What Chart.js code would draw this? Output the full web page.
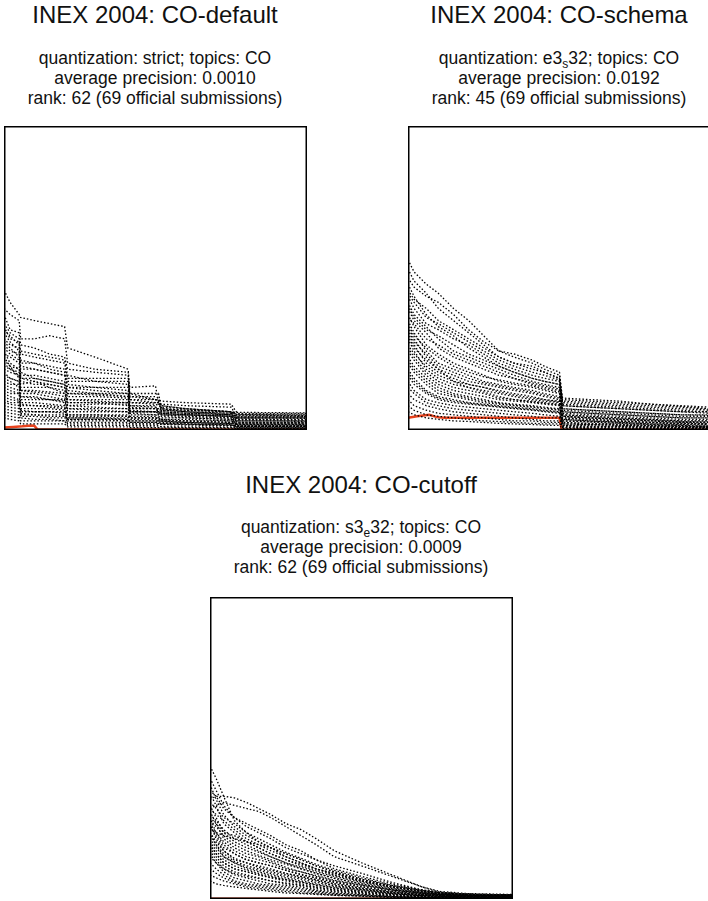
<!DOCTYPE html>
<html lang="en">
<head>
  <meta charset="UTF-8" />
  <title>INEX 2004 CO runs</title>
  <script src="https://cdn.jsdelivr.net/npm/chart.js"></script>
  <style>
    body {
      margin: 0;
      width: 708px;
      height: 901px;
      overflow: hidden;
      background: #fff;
      font-family: "Liberation Sans", Arial, Helvetica, sans-serif;
      color: #111;
    }
    .title, .sub {
      position: absolute;
      width: 400px;
      text-align: center;
    }
    .title { font-size: 24px; line-height: 26px; }
    .sub { font-size: 17.5px; line-height: 20px; }
    .sub sub { font-size: 12px; line-height: 0; vertical-align: -4px; }
    canvas { position: absolute; }
  </style>
</head>
<body>
  <div class="title" style="left:-45px; top:2px;">INEX 2004: CO-default</div>
  <div class="sub" style="left:-45px; top:48px;">quantization: strict; topics: CO<br>average precision: 0.0010<br>rank: 62 (69 official submissions)</div>
  <canvas id="chartDefault" width="303" height="304" style="left:4px; top:126px;"></canvas>

  <div class="title" style="left:359px; top:2px;">INEX 2004: CO-schema</div>
  <div class="sub" style="left:359px; top:48px;">quantization: e3<sub>s</sub>32; topics: CO<br>average precision: 0.0192<br>rank: 45 (69 official submissions)</div>
  <canvas id="chartSchema" width="303" height="304" style="left:408px; top:126px;"></canvas>

  <div class="title" style="left:161px; top:472px;">INEX 2004: CO-cutoff</div>
  <div class="sub" style="left:161px; top:517px;">quantization: s3<sub>e</sub>32; topics: CO<br>average precision: 0.0009<br>rank: 62 (69 official submissions)</div>
  <canvas id="chartCutoff" width="303" height="302" style="left:210px; top:597px;"></canvas>

  <script>
    // recall grid + precision of the other official runs, per panel
    const defaultRecall = [0, 0.02, 0.05, 0.055, 0.1, 0.15, 0.2, 0.21, 0.3, 0.41, 0.415, 0.5, 0.51, 0.52, 0.6, 0.75, 0.77, 0.9, 1.0];
    const defaultRuns = [
      [0.46,0.42,0.38,0.37,0.36,0.35,0.34,0.27,0.24,0.20,0.12,0.10,0.09,0.08,0.07,0.06,0.058,0.057,0.056],
      [0.40,0.38,0.36,0.30,0.30,0.31,0.30,0.22,0.20,0.19,0.10,0.09,0.085,0.07,0.06,0.05,0.046,0.046,0.045],
      [0.38,0.33,0.32,0.28,0.27,0.25,0.24,0.20,0.19,0.18,0.14,0.145,0.09,0.08,0.07,0.06,0.035,0.035,0.034],
      [0.34,0.30,0.29,0.22,0.22,0.21,0.20,0.16,0.16,0.16,0.12,0.12,0.12,0.07,0.065,0.06,0.05,0.05,0.05],
      [0.30,0.28,0.27,0.20,0.20,0.19,0.18,0.12,0.12,0.12,0.09,0.09,0.09,0.085,0.08,0.075,0.04,0.04,0.04],
      [0.28,0.26,0.25,0.18,0.18,0.17,0.16,0.10,0.10,0.10,0.06,0.06,0.06,0.055,0.05,0.045,0.024,0.024,0.024],
      [0.26,0.22,0.20,0.15,0.16,0.15,0.14,0.08,0.085,0.085,0.07,0.07,0.06,0.055,0.05,0.045,0.03,0.03,0.028],
      [0.24,0.21,0.20,0.19,0.17,0.16,0.15,0.13,0.12,0.11,0.08,0.075,0.07,0.065,0.06,0.055,0.052,0.05,0.05],
      [0.22,0.20,0.19,0.12,0.12,0.11,0.10,0.06,0.06,0.06,0.04,0.04,0.04,0.035,0.03,0.03,0.02,0.02,0.02],
      [0.20,0.19,0.18,0.14,0.14,0.14,0.13,0.11,0.11,0.105,0.08,0.08,0.05,0.05,0.045,0.04,0.013,0.013,0.013],
      [0.18,0.17,0.16,0.10,0.10,0.10,0.09,0.04,0.04,0.04,0.03,0.03,0.03,0.03,0.025,0.02,0.01,0.01,0.01],
      [0.16,0.15,0.15,0.09,0.09,0.085,0.08,0.07,0.07,0.07,0.05,0.05,0.045,0.04,0.04,0.035,0.03,0.03,0.03],
      [0.15,0.14,0.13,0.06,0.06,0.06,0.06,0.03,0.03,0.03,0.02,0.02,0.02,0.02,0.02,0.015,0.01,0.01,0.01],
      [0.13,0.12,0.12,0.11,0.11,0.10,0.10,0.09,0.09,0.08,0.06,0.06,0.055,0.05,0.05,0.045,0.04,0.04,0.04],
      [0.12,0.11,0.10,0.08,0.08,0.08,0.075,0.05,0.05,0.05,0.04,0.04,0.035,0.03,0.03,0.025,0.015,0.015,0.015],
      [0.10,0.09,0.09,0.05,0.05,0.05,0.05,0.02,0.02,0.02,0.015,0.015,0.015,0.01,0.01,0.01,0.005,0.005,0.005],
      [0.08,0.075,0.07,0.065,0.06,0.06,0.055,0.05,0.05,0.045,0.04,0.04,0.035,0.03,0.03,0.025,0.02,0.02,0.02],
      [0.06,0.055,0.05,0.03,0.03,0.03,0.03,0.015,0.015,0.015,0.01,0.01,0.01,0.01,0.008,0.008,0.005,0.005,0.005],
      [0.05,0.045,0.04,0.04,0.035,0.035,0.03,0.025,0.025,0.025,0.02,0.02,0.02,0.018,0.016,0.015,0.013,0.013,0.012],
      [0.32,0.29,0.26,0.17,0.17,0.16,0.15,0.14,0.13,0.12,0.07,0.07,0.065,0.06,0.055,0.05,0.035,0.034,0.033],
      [0.35,0.32,0.30,0.25,0.24,0.23,0.22,0.17,0.17,0.17,0.11,0.10,0.10,0.095,0.09,0.085,0.055,0.055,0.055],
      [0.27,0.25,0.23,0.21,0.20,0.19,0.18,0.15,0.14,0.14,0.10,0.10,0.095,0.06,0.055,0.05,0.045,0.045,0.045],
      [0.04,0.035,0.03,0.02,0.02,0.02,0.02,0.01,0.01,0.01,0.008,0.008,0.008,0.006,0.006,0.006,0.004,0.004,0.004],
      [0.19,0.17,0.16,0.13,0.13,0.125,0.12,0.09,0.09,0.09,0.06,0.06,0.06,0.055,0.05,0.045,0.04,0.04,0.038],
      [0.29,0.27,0.24,0.23,0.22,0.20,0.19,0.14,0.14,0.13,0.09,0.085,0.08,0.075,0.07,0.06,0.05,0.048,0.047],
      [0.25,0.24,0.22,0.16,0.15,0.15,0.14,0.12,0.115,0.11,0.075,0.07,0.07,0.065,0.06,0.055,0.03,0.03,0.03],
      [0.23,0.21,0.17,0.17,0.16,0.14,0.12,0.10,0.095,0.09,0.065,0.06,0.055,0.05,0.045,0.04,0.025,0.025,0.025],
      [0.21,0.20,0.18,0.11,0.105,0.10,0.095,0.08,0.075,0.07,0.055,0.05,0.05,0.045,0.04,0.035,0.02,0.02,0.02],
      [0.17,0.16,0.14,0.13,0.125,0.12,0.11,0.07,0.065,0.06,0.045,0.045,0.04,0.035,0.035,0.03,0.018,0.018,0.017],
      [0.14,0.13,0.12,0.07,0.07,0.07,0.065,0.045,0.045,0.045,0.035,0.035,0.03,0.028,0.025,0.022,0.012,0.012,0.012],
      [0.11,0.10,0.095,0.085,0.08,0.075,0.07,0.035,0.035,0.035,0.025,0.025,0.025,0.022,0.02,0.018,0.008,0.008,0.008],
      [0.09,0.085,0.08,0.045,0.045,0.04,0.04,0.035,0.035,0.03,0.025,0.025,0.022,0.02,0.018,0.016,0.011,0.011,0.01],
      [0.07,0.065,0.06,0.055,0.05,0.045,0.045,0.04,0.04,0.035,0.03,0.03,0.028,0.025,0.024,0.022,0.018,0.018,0.017],
      [0.33,0.31,0.28,0.26,0.25,0.24,0.23,0.18,0.16,0.15,0.11,0.11,0.105,0.07,0.065,0.06,0.04,0.04,0.04]
    ];
    const defaultOursRecall = [0, 0.03, 0.06, 0.09, 0.1, 0.11, 0.3, 0.6, 1.0];
    const defaultOurs = [0.008, 0.01, 0.012, 0.015, 0.014, 0.002, 0.002, 0.002, 0.002];

    const schemaRecall = [0, 0.02, 0.06, 0.1, 0.15, 0.2, 0.25, 0.3, 0.35, 0.41, 0.45, 0.5, 0.51, 0.6, 0.7, 0.8, 0.9, 1.0];
    const schemaRuns = [
      [0.56,0.52,0.48,0.45,0.40,0.36,0.31,0.26,0.24,0.22,0.20,0.18,0.105,0.10,0.095,0.085,0.078,0.07],
      [0.50,0.47,0.44,0.42,0.38,0.33,0.29,0.26,0.25,0.23,0.21,0.19,0.09,0.085,0.08,0.075,0.07,0.065],
      [0.46,0.43,0.40,0.36,0.33,0.30,0.27,0.24,0.22,0.20,0.19,0.17,0.08,0.075,0.07,0.065,0.06,0.055],
      [0.44,0.40,0.35,0.33,0.30,0.28,0.25,0.22,0.20,0.18,0.17,0.16,0.07,0.065,0.06,0.055,0.05,0.05],
      [0.42,0.38,0.34,0.30,0.26,0.24,0.22,0.20,0.18,0.16,0.15,0.14,0.06,0.055,0.05,0.045,0.04,0.04],
      [0.40,0.36,0.32,0.27,0.24,0.22,0.20,0.18,0.17,0.15,0.14,0.13,0.05,0.045,0.04,0.035,0.03,0.03],
      [0.38,0.34,0.28,0.25,0.22,0.20,0.18,0.16,0.15,0.14,0.13,0.12,0.045,0.04,0.035,0.03,0.025,0.025],
      [0.36,0.32,0.26,0.22,0.20,0.18,0.16,0.15,0.14,0.13,0.12,0.11,0.04,0.035,0.03,0.025,0.02,0.02],
      [0.34,0.30,0.24,0.20,0.18,0.16,0.15,0.14,0.13,0.12,0.11,0.10,0.035,0.03,0.025,0.02,0.018,0.015],
      [0.32,0.28,0.22,0.19,0.17,0.15,0.14,0.13,0.12,0.11,0.10,0.095,0.03,0.028,0.025,0.02,0.015,0.012],
      [0.30,0.26,0.20,0.17,0.15,0.14,0.13,0.12,0.11,0.10,0.095,0.09,0.025,0.022,0.02,0.015,0.012,0.01],
      [0.28,0.25,0.21,0.18,0.16,0.14,0.125,0.11,0.10,0.095,0.09,0.085,0.08,0.075,0.07,0.065,0.06,0.06],
      [0.26,0.23,0.18,0.15,0.13,0.12,0.11,0.10,0.095,0.09,0.085,0.08,0.02,0.018,0.016,0.014,0.012,0.01],
      [0.24,0.21,0.17,0.14,0.12,0.11,0.10,0.09,0.085,0.08,0.075,0.07,0.06,0.055,0.05,0.045,0.04,0.04],
      [0.22,0.19,0.15,0.12,0.11,0.10,0.09,0.085,0.08,0.075,0.07,0.065,0.015,0.014,0.012,0.01,0.008,0.008],
      [0.20,0.17,0.13,0.11,0.10,0.09,0.085,0.08,0.075,0.07,0.065,0.06,0.05,0.045,0.04,0.035,0.03,0.03],
      [0.18,0.15,0.12,0.10,0.09,0.085,0.08,0.075,0.07,0.065,0.06,0.055,0.012,0.01,0.01,0.008,0.006,0.006],
      [0.16,0.13,0.10,0.09,0.08,0.075,0.07,0.065,0.06,0.055,0.05,0.045,0.035,0.03,0.028,0.025,0.022,0.02],
      [0.14,0.12,0.09,0.08,0.07,0.065,0.06,0.055,0.05,0.045,0.04,0.04,0.01,0.008,0.007,0.006,0.005,0.005],
      [0.12,0.10,0.08,0.07,0.06,0.055,0.05,0.045,0.04,0.035,0.03,0.03,0.025,0.02,0.018,0.015,0.012,0.01],
      [0.10,0.08,0.065,0.055,0.05,0.045,0.04,0.035,0.03,0.03,0.025,0.025,0.008,0.006,0.005,0.005,0.004,0.004],
      [0.08,0.065,0.05,0.045,0.04,0.035,0.03,0.028,0.025,0.022,0.02,0.02,0.015,0.012,0.01,0.01,0.008,0.008],
      [0.06,0.05,0.04,0.035,0.03,0.028,0.025,0.022,0.02,0.018,0.016,0.015,0.005,0.004,0.004,0.003,0.003,0.003],
      [0.48,0.44,0.38,0.34,0.31,0.27,0.24,0.21,0.19,0.17,0.16,0.15,0.10,0.095,0.09,0.085,0.08,0.075],
      [0.53,0.49,0.45,0.40,0.36,0.32,0.28,0.24,0.22,0.21,0.19,0.17,0.095,0.09,0.085,0.08,0.075,0.068],
      [0.45,0.42,0.37,0.35,0.32,0.29,0.26,0.23,0.21,0.19,0.18,0.165,0.085,0.08,0.075,0.07,0.065,0.06],
      [0.41,0.37,0.33,0.31,0.28,0.25,0.23,0.21,0.19,0.17,0.16,0.15,0.065,0.06,0.055,0.05,0.045,0.045],
      [0.37,0.35,0.30,0.28,0.25,0.23,0.21,0.19,0.17,0.155,0.145,0.135,0.055,0.05,0.045,0.04,0.035,0.035],
      [0.35,0.31,0.27,0.24,0.21,0.19,0.175,0.165,0.155,0.145,0.135,0.125,0.045,0.04,0.035,0.03,0.025,0.022],
      [0.33,0.29,0.25,0.21,0.19,0.17,0.155,0.145,0.135,0.125,0.115,0.105,0.04,0.035,0.03,0.025,0.02,0.018],
      [0.31,0.27,0.23,0.20,0.16,0.15,0.14,0.125,0.115,0.105,0.10,0.092,0.07,0.065,0.06,0.055,0.05,0.048],
      [0.27,0.24,0.19,0.16,0.14,0.13,0.12,0.105,0.10,0.092,0.088,0.082,0.03,0.026,0.022,0.018,0.015,0.012],
      [0.23,0.20,0.16,0.13,0.115,0.105,0.095,0.088,0.082,0.077,0.072,0.068,0.045,0.04,0.036,0.032,0.028,0.026],
      [0.19,0.16,0.125,0.105,0.095,0.088,0.082,0.077,0.072,0.067,0.062,0.058,0.02,0.018,0.015,0.012,0.01,0.009]
    ];
    const schemaOursRecall = [0, 0.03, 0.05, 0.07, 0.09, 0.1, 0.12, 0.3, 0.5, 0.507, 1.0];
    const schemaOurs = [0.04, 0.045, 0.048, 0.05, 0.044, 0.042, 0.04, 0.04, 0.04, 0.001, 0.001];

    const cutoffRecall = [0, 0.02, 0.045, 0.08, 0.12, 0.16, 0.2, 0.25, 0.3, 0.35, 0.41, 0.5, 0.6, 0.7, 0.76, 0.85, 1.0];
    const cutoffRuns = [
      [0.44,0.40,0.34,0.26,0.22,0.19,0.17,0.14,0.12,0.10,0.085,0.06,0.04,0.025,0.018,0.015,0.012],
      [0.33,0.34,0.34,0.335,0.32,0.30,0.28,0.25,0.23,0.20,0.16,0.12,0.08,0.04,0.025,0.018,0.015],
      [0.30,0.31,0.32,0.31,0.30,0.29,0.27,0.24,0.21,0.18,0.14,0.11,0.075,0.04,0.022,0.016,0.014],
      [0.36,0.34,0.30,0.27,0.25,0.23,0.21,0.18,0.16,0.13,0.11,0.085,0.055,0.03,0.02,0.015,0.012],
      [0.32,0.30,0.27,0.25,0.22,0.20,0.18,0.155,0.135,0.115,0.095,0.07,0.045,0.028,0.02,0.014,0.012],
      [0.30,0.28,0.26,0.23,0.20,0.18,0.16,0.14,0.12,0.10,0.08,0.06,0.04,0.025,0.018,0.013,0.011],
      [0.28,0.26,0.23,0.20,0.18,0.16,0.14,0.12,0.105,0.09,0.075,0.055,0.035,0.022,0.016,0.012,0.01],
      [0.26,0.24,0.21,0.18,0.16,0.145,0.13,0.115,0.10,0.085,0.07,0.05,0.03,0.02,0.015,0.011,0.009],
      [0.25,0.22,0.19,0.16,0.14,0.13,0.12,0.10,0.09,0.075,0.06,0.045,0.03,0.018,0.014,0.01,0.008],
      [0.24,0.21,0.17,0.15,0.13,0.12,0.11,0.095,0.08,0.07,0.055,0.04,0.025,0.016,0.012,0.009,0.008],
      [0.22,0.19,0.16,0.13,0.12,0.11,0.10,0.085,0.075,0.065,0.05,0.035,0.022,0.014,0.011,0.008,0.007],
      [0.21,0.18,0.15,0.125,0.11,0.10,0.09,0.08,0.07,0.06,0.045,0.032,0.02,0.012,0.01,0.008,0.007],
      [0.20,0.17,0.14,0.12,0.10,0.09,0.08,0.07,0.06,0.05,0.04,0.03,0.018,0.011,0.009,0.007,0.006],
      [0.19,0.16,0.13,0.11,0.095,0.085,0.075,0.065,0.055,0.045,0.035,0.025,0.016,0.01,0.008,0.006,0.005],
      [0.18,0.15,0.12,0.10,0.09,0.08,0.07,0.06,0.05,0.04,0.03,0.022,0.014,0.009,0.007,0.005,0.004],
      [0.17,0.14,0.11,0.09,0.08,0.07,0.06,0.05,0.045,0.035,0.027,0.02,0.012,0.008,0.006,0.005,0.004],
      [0.16,0.13,0.10,0.08,0.07,0.06,0.05,0.045,0.04,0.03,0.024,0.017,0.01,0.007,0.005,0.004,0.003],
      [0.14,0.12,0.09,0.07,0.06,0.05,0.045,0.04,0.035,0.027,0.02,0.015,0.009,0.006,0.005,0.004,0.003],
      [0.12,0.10,0.08,0.06,0.05,0.045,0.04,0.035,0.03,0.024,0.018,0.013,0.008,0.005,0.004,0.003,0.003],
      [0.10,0.085,0.07,0.055,0.045,0.04,0.035,0.03,0.025,0.02,0.015,0.011,0.007,0.005,0.004,0.003,0.002],
      [0.08,0.07,0.06,0.05,0.04,0.035,0.03,0.025,0.02,0.017,0.013,0.01,0.006,0.004,0.003,0.003,0.002],
      [0.06,0.05,0.045,0.04,0.035,0.03,0.025,0.02,0.018,0.015,0.012,0.009,0.005,0.004,0.003,0.002,0.002],
      [0.23,0.22,0.21,0.20,0.19,0.18,0.17,0.15,0.13,0.11,0.09,0.065,0.042,0.026,0.02,0.015,0.013],
      [0.27,0.25,0.22,0.21,0.19,0.17,0.15,0.13,0.115,0.10,0.085,0.065,0.045,0.03,0.022,0.016,0.013],
      [0.40,0.36,0.31,0.27,0.24,0.22,0.20,0.17,0.15,0.13,0.10,0.075,0.05,0.03,0.02,0.016,0.013],
      [0.38,0.33,0.28,0.24,0.21,0.19,0.17,0.15,0.13,0.11,0.09,0.065,0.042,0.026,0.018,0.014,0.012],
      [0.35,0.31,0.25,0.22,0.19,0.17,0.15,0.13,0.11,0.095,0.078,0.058,0.038,0.024,0.017,0.013,0.011],
      [0.31,0.27,0.22,0.19,0.17,0.155,0.14,0.12,0.10,0.085,0.068,0.05,0.033,0.021,0.015,0.012,0.01],
      [0.29,0.25,0.20,0.17,0.15,0.14,0.125,0.105,0.09,0.078,0.062,0.046,0.03,0.019,0.014,0.011,0.009],
      [0.27,0.22,0.18,0.15,0.13,0.12,0.11,0.095,0.082,0.07,0.056,0.04,0.026,0.017,0.013,0.01,0.008],
      [0.25,0.20,0.16,0.135,0.12,0.105,0.095,0.085,0.074,0.063,0.05,0.036,0.023,0.015,0.012,0.009,0.007],
      [0.22,0.18,0.14,0.12,0.105,0.095,0.085,0.075,0.066,0.055,0.044,0.032,0.02,0.013,0.01,0.008,0.006],
      [0.18,0.15,0.12,0.10,0.09,0.08,0.072,0.064,0.056,0.047,0.037,0.027,0.017,0.011,0.009,0.007,0.005],
      [0.15,0.12,0.10,0.085,0.075,0.068,0.06,0.053,0.046,0.039,0.031,0.022,0.014,0.009,0.007,0.005,0.004]
    ];
    const cutoffOursRecall = [0, 1.0];
    const cutoffOurs = [0.001, 0.001];

    // draws the box round the plot area
    const frame = {
      id: 'frame',
      afterDraw(chart) {
        const { ctx, chartArea: a } = chart;
        ctx.save();
        ctx.strokeStyle = '#000';
        ctx.lineWidth = 1.5;
        ctx.strokeRect(a.left + 0.75, a.top + 0.75, a.right - a.left - 1.5, a.bottom - a.top - 1.5);
        ctx.restore();
      }
    };

    function pts(xs, ys) {
      return ys.map((y, i) => ({ x: xs[i], y: y }));
    }

    function drawPanel(id, recall, runs, oursRecall, ours) {
      const datasets = runs.map(r => ({
        data: pts(recall, r),
        borderColor: '#000',
        borderWidth: 1.3,
        borderDash: [1.5, 2]
      }));
      datasets.push({
        data: pts(oursRecall, ours),
        borderColor: '#e8431e',
        borderWidth: 2.5,
        clip: false
      });
      new Chart(document.getElementById(id), {
        type: 'line',
        data: { datasets: datasets },
        options: {
          responsive: false,
          animation: false,
          layout: { padding: 0 },
          elements: { point: { radius: 0 }, line: { tension: 0 } },
          plugins: { legend: { display: false }, tooltip: { enabled: false } },
          scales: {
            x: { type: 'linear', min: 0, max: 1, display: false },
            y: { min: 0, max: 1, display: false }
          }
        },
        plugins: [frame]
      });
    }

    drawPanel('chartDefault', defaultRecall, defaultRuns, defaultOursRecall, defaultOurs);
    drawPanel('chartSchema', schemaRecall, schemaRuns, schemaOursRecall, schemaOurs);
    drawPanel('chartCutoff', cutoffRecall, cutoffRuns, cutoffOursRecall, cutoffOurs);
  </script>
</body>
</html>
